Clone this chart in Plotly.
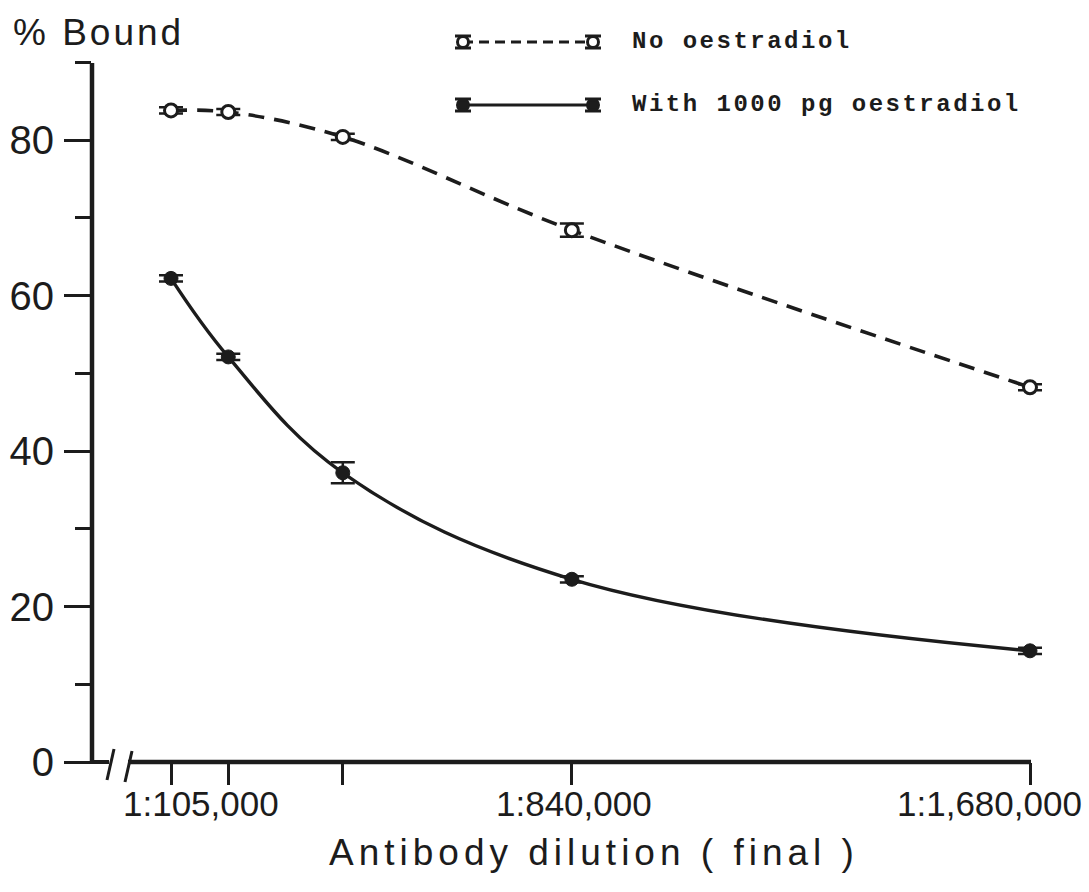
import plotly.graph_objects as go

# ---- data -------------------------------------------------------------
dilutions = [105000, 210000, 420000, 840000, 1680000]
tick_labels = ["1:105,000", "", "", "1:840,000", "1:1,680,000"]

bound_no_e2 = [83.8, 83.6, 80.4, 68.4, 48.2]
err_no_e2 = [0.4, 0.4, 0.4, 0.85, 0.4]

bound_with_e2 = [62.2, 52.1, 37.2, 23.5, 14.3]
err_with_e2 = [0.4, 0.4, 1.35, 0.4, 0.4]

y_major = [0, 20, 40, 60, 80]
y_minor = [10, 30, 50, 70, 90]

series_names = ["No oestradiol", "With 1000 pg oestradiol"]

# ---- page geometry ----------------------------------------------------
W, H = 1089, 892
L, R, T, B = 92, 30, 10, 130
INK = "#1c1c1c"
SANS = "Liberation Sans, Arial, sans-serif"
MONO = "Liberation Mono, Courier New, monospace"

# x axis: first dilution sits at px 171, last at px 1030
X_FIRST_PX, X_LAST_PX = 171, 1030
ppx = (X_LAST_PX - X_FIRST_PX) / (dilutions[-1] - dilutions[0])
x_range = [dilutions[0] - (X_FIRST_PX - L) / ppx,
           dilutions[-1] + (W - R - X_LAST_PX) / ppx]

# y axis: 0 at px 762, 80 at px 140
ppy = (762 - 140) / 80.0
y_range = [0, (H - B - T) / ppy]


def px(x):
    return (x - L) / (W - L - R)


def py(y):
    return (H - B - y) / (H - T - B)


fig = go.Figure()

# dashed curve, no oestradiol
fig.add_trace(go.Scatter(
    x=dilutions, y=bound_no_e2, mode="lines",
    line=dict(shape="spline", smoothing=1.0, dash="16px,10px", width=3.6, color=INK),
    hoverinfo="skip", showlegend=False))
fig.add_trace(go.Scatter(
    x=dilutions, y=bound_no_e2, mode="markers", name=series_names[0],
    marker=dict(symbol="circle", size=13, color="white", line=dict(width=3, color=INK)),
    error_y=dict(type="data", array=err_no_e2, visible=True, width=12, thickness=2.5, color=INK),
    showlegend=False))

# solid curve, with 1000 pg oestradiol
fig.add_trace(go.Scatter(
    x=dilutions, y=bound_with_e2, mode="lines",
    line=dict(shape="spline", smoothing=1.1, width=3.4, color=INK),
    hoverinfo="skip", showlegend=False))
fig.add_trace(go.Scatter(
    x=dilutions, y=bound_with_e2, mode="markers", name=series_names[1],
    marker=dict(symbol="circle", size=14, color=INK, line=dict(width=1, color=INK)),
    error_y=dict(type="data", array=err_with_e2, visible=True, width=12, thickness=2.5, color=INK),
    showlegend=False))

# key samples drawn on a pixel-scaled overlay axis
KEY_X = [463, 593]
KEY_Y = [42, 105]
for i, dash in enumerate(["10px,6px", "solid"]):
    fig.add_trace(go.Scatter(
        x=KEY_X, y=[KEY_Y[i]] * 2, xaxis="x2", yaxis="y2", mode="lines+markers",
        line=dict(width=3.2, color=INK, dash=dash),
        marker=dict(symbol="circle", size=11,
                    color="white" if i == 0 else INK, line=dict(width=3, color=INK)),
        error_y=dict(type="data", array=[6, 6], visible=True, width=8, thickness=3, color=INK),
        hoverinfo="skip", showlegend=False))

annotations = []
for i, name in enumerate(series_names):
    annotations.append(dict(
        xref="paper", yref="paper", x=px(630), y=py(KEY_Y[i]),
        text='<span style="letter-spacing:2.5px">%s</span>' % name,
        showarrow=False, xanchor="left", yanchor="middle",
        font=dict(family=MONO, size=24, color=INK, weight="bold")))

# tick labels under the x axis
label_shift = {0: 30, 3: 2, 4: -41}
for i, lab in enumerate(tick_labels):
    if not lab:
        continue
    annotations.append(dict(
        xref="x", yref="paper", x=dilutions[i], y=py(803), text=lab,
        xshift=label_shift.get(i, 0), showarrow=False,
        xanchor="center", yanchor="middle",
        font=dict(family=SANS, size=35, color=INK)))

annotations.append(dict(
    xref="paper", yref="paper", x=px(11), y=py(32),
    text='<span style="letter-spacing:3px">% Bound</span>',
    showarrow=False, xanchor="left", yanchor="middle",
    font=dict(family=SANS, size=37, color=INK)))
annotations.append(dict(
    xref="paper", yref="paper", x=px(594), y=py(852),
    text='<span style="letter-spacing:5px">Antibody dilution ( final )</span>',
    showarrow=False, xanchor="center", yanchor="middle",
    font=dict(family=SANS, size=37, color=INK)))

# axis lines with a break near the origin
def seg(x0, y0, x1, y1, w=4):
    return dict(type="line", xref="paper", yref="paper",
                x0=px(x0), y0=py(y0), x1=px(x1), y1=py(y1),
                line=dict(color=INK, width=w))

shapes = [
    seg(92, 63, 92, 764, 4.5),
    seg(90, 762, 109, 762, 4),
    seg(107, 780, 114, 749, 3),
    seg(125, 782, 132, 751, 3),
    seg(128, 762, 1031, 762, 4.5),
]

fig.update_layout(
    width=W, height=H,
    margin=dict(l=L, r=R, t=T, b=B),
    paper_bgcolor="white", plot_bgcolor="white",
    xaxis=dict(range=x_range, showgrid=False, zeroline=False, showline=False,
               tickvals=dilutions, ticktext=[""] * len(dilutions),
               ticks="outside", ticklen=22, tickwidth=3, tickcolor=INK),
    yaxis=dict(range=y_range, showgrid=False, zeroline=False, showline=False,
               tickvals=y_major, ticks="outside", ticklen=27, tickwidth=3,
               tickcolor=INK, ticklabelstandoff=2,
               tickfont=dict(family=SANS, size=40, color=INK),
               minor=dict(tickvals=y_minor, ticks="outside", ticklen=16,
                          tickwidth=3, tickcolor=INK, showgrid=False)),
    xaxis2=dict(overlaying="x", range=[L, W - R], visible=False),
    yaxis2=dict(overlaying="y", anchor="x2", range=[H - B, T], visible=False),
    annotations=annotations,
    shapes=shapes,
    showlegend=False,
)

fig.write_html("out.html")
